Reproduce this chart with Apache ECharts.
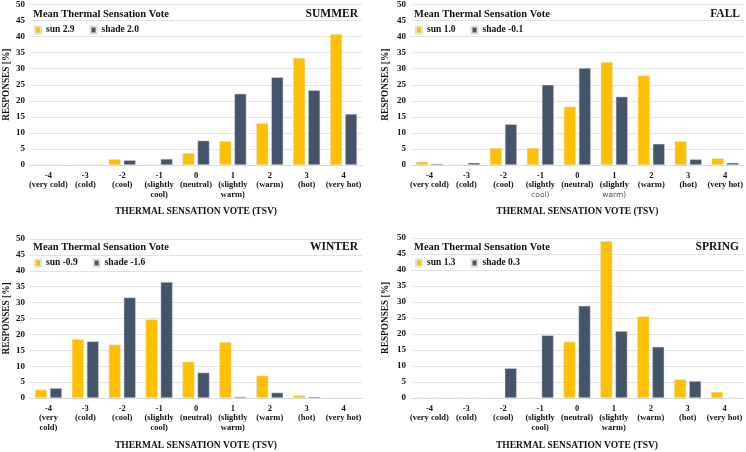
<!DOCTYPE html>
<html>
<head>
<meta charset="utf-8">
<script src="https://cdn.jsdelivr.net/npm/echarts@6/dist/echarts.min.js"></script>
<style>
  html, body { margin: 0; padding: 0; background: #fff; }
  #chart { width: 746px; height: 452px; }
</style>
</head>
<body>
<div id="chart"></div>
<script>
// categories (TSV scale)
const tsvValues = ['-4', '-3', '-2', '-1', '0', '1', '2', '3', '4']
const tsvWords = ['(very cold)', '(cold)', '(cool)', '(slightly\ncool)', '(neutral)', '(slightly\nwarm)', '(warm)', '(hot)', '(very hot)']
const yTicks = [0, 5, 10, 15, 20, 25, 30, 35, 40, 45, 50]

// responses [%]
const summerSun = [0, 0, 1.8, 0, 3.7, 7.4, 13.0, 33.3, 40.7]
const summerShade = [0, 0, 1.5, 1.9, 7.6, 22.2, 27.3, 23.3, 15.9]
const fallSun = [1.0, 0, 5.3, 5.3, 18.2, 32.1, 27.9, 7.4, 2.1]
const fallShade = [0.4, 0.7, 12.7, 25.0, 30.2, 21.3, 6.6, 1.8, 0.7]
const winterSun = [2.6, 18.5, 16.8, 24.7, 11.4, 17.6, 7.0, 0.8, 0]
const winterShade = [3.1, 17.8, 31.6, 36.5, 8.0, 0.4, 1.7, 0.4, 0]
const springSun = [0, 0, 0, 0, 17.6, 49.0, 25.5, 5.8, 1.9]
const springShade = [0, 0, 9.3, 19.6, 28.8, 20.9, 16.0, 5.3, 0]

const panels = [
  { season: 'SUMMER', sun: summerSun, shade: summerShade, sunMean: '2.9', shadeMean: '2.0' },
  { season: 'FALL', sun: fallSun, shade: fallShade, sunMean: '1.0', shadeMean: '-0.1' },
  { season: 'WINTER', sun: winterSun, shade: winterShade, sunMean: '-0.9', shadeMean: '-1.6' },
  { season: 'SPRING', sun: springSun, shade: springShade, sunMean: '1.3', shadeMean: '0.3' },
]

const SUN = '#FFC000'
const SHADE = '#44546A'
const FONT = '"Liberation Serif", "DejaVu Serif", serif'

// grid boxes for the 2x2 layout, plus title / legend rows (centre y)
const boxes = [
  { left: 30, top: 4, width: 332, height: 161, titleY: 14, legendY: 29 },
  { left: 411, top: 4, width: 333, height: 161, titleY: 14, legendY: 29 },
  { left: 30, top: 239, width: 332, height: 160, titleY: 247, legendY: 262 },
  { left: 411, top: 238, width: 332, height: 161, titleY: 247, legendY: 262 },
]

function catLabel(idx, panelIdx) {
  let word = tsvWords[idx]
  if (panelIdx === 2 && idx === 0) word = '(very\ncold)'
  if (panelIdx === 1 && (idx === 3 || idx === 5)) {
    // fall panel: last line is in a plain font
    const parts = word.split('\n')
    return '{b|' + tsvValues[idx] + '}\n{b|' + parts[0] + '}\n{p|' + parts[1] + '}'
  }
  return word.split('\n').reduce((a, w) => a + '\n{b|' + w + '}', '{b|' + tsvValues[idx] + '}')
}

const option = {
  animation: false,
  textStyle: { fontFamily: FONT },
  grid: boxes.map((b) => ({ left: b.left, top: b.top, width: b.width, height: b.height })),
  title: [],
  legend: [],
  xAxis: [],
  yAxis: [],
  series: [],
}

panels.forEach((p, i) => {
  const b = boxes[i]
  const sunName = 'sun ' + p.sunMean
  const shadeName = 'shade ' + p.shadeMean

  option.title.push({
    text: 'Mean Thermal Sensation Vote',
    left: b.left - 2,
    top: b.titleY - 11,
    padding: 5,
    textStyle: { fontFamily: FONT, fontSize: 10.5, fontWeight: 'bold', color: '#111', lineHeight: 12 },
  })
  option.title.push({
    text: p.season,
    right: 746 - (b.left + b.width) - 1,
    top: b.titleY - 11,
    padding: 5,
    textStyle: { fontFamily: FONT, fontSize: 11.5, fontWeight: 'bold', color: '#111', lineHeight: 12 },
  })

  option.legend.push({
    data: [sunName, shadeName],
    left: b.left - 1,
    top: b.legendY - 9,
    itemWidth: 6,
    itemHeight: 7,
    itemGap: 15,
    icon: 'rect',
    textStyle: { fontFamily: FONT, fontSize: 9.5, fontWeight: 'bold', color: '#111' },
  })

  option.xAxis.push({
    type: 'category',
    gridIndex: i,
    data: tsvValues,
    name: 'THERMAL SENSATION VOTE (TSV)',
    nameLocation: 'middle',
    nameGap: i < 2 ? 42 : 43,
    nameTextStyle: { fontFamily: FONT, fontSize: 9.5, fontWeight: 'bold', color: '#111' },
    axisLine: { show: true, lineStyle: { color: '#d9d9d9' } },
    axisTick: { show: false },
    axisLabel: {
      interval: 0,
      margin: 6,
      formatter: (v, idx) => catLabel(idx, i),
      rich: {
        b: { fontFamily: FONT, fontSize: 8.5, fontWeight: 'bold', color: '#111', lineHeight: 9.5 },
        p: { fontFamily: '"DejaVu Sans", sans-serif', fontSize: 7.5, color: '#555', lineHeight: 9.5 },
      },
    },
  })

  option.yAxis.push({
    type: 'value',
    gridIndex: i,
    min: 0,
    max: 50,
    interval: 5,
    name: 'RESPONSES [%]',
    nameLocation: 'middle',
    nameGap: i % 2 === 0 ? 19 : 21,
    nameTextStyle: { fontFamily: FONT, fontSize: 9.3, fontWeight: 'bold', color: '#111' },
    axisLine: { show: false },
    axisTick: { show: false },
    axisLabel: {
      margin: 5,
      fontFamily: FONT,
      fontSize: 9,
      fontWeight: 'bold',
      color: '#111',
      formatter: (v) => (yTicks.includes(v) ? String(v) : ''),
    },
    splitLine: { lineStyle: { color: '#e3e3e3' } },
  })

  option.series.push({
    name: sunName,
    type: 'bar',
    xAxisIndex: i,
    yAxisIndex: i,
    data: p.sun,
    barWidth: 12,
    barGap: '25%',
    itemStyle: { color: SUN, borderColor: '#e0e0e0', borderWidth: 0.5 },
  })
  option.series.push({
    name: shadeName,
    type: 'bar',
    xAxisIndex: i,
    yAxisIndex: i,
    data: p.shade,
    barWidth: 12,
    barGap: '25%',
    itemStyle: { color: SHADE, borderColor: '#e0e0e0', borderWidth: 0.5 },
  })
})

const chart = echarts.init(document.getElementById('chart'), null, { renderer: 'canvas' })
chart.setOption(option)
window.addEventListener('resize', () => chart.resize())
</script>
</body>
</html>
